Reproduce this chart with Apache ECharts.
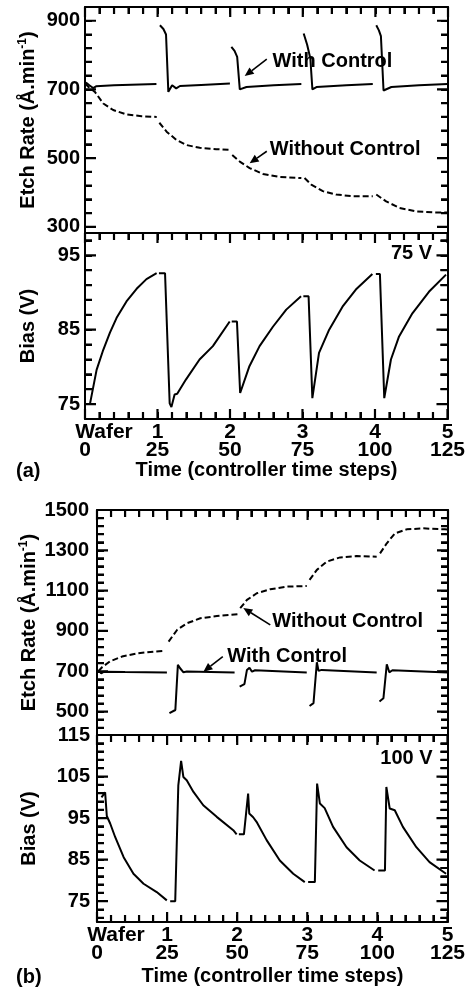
<!DOCTYPE html>
<html><head><meta charset="utf-8">
<script src="https://cdn.jsdelivr.net/npm/echarts@6/dist/echarts.min.js"></script>
<style>html,body{margin:0;padding:0;background:#fff}#c{width:468px;height:988px}</style>
</head><body><div id="c"></div>
<script>
// ---------- data ----------
const timeTicks = [0, 25, 50, 75, 100, 125];
const waferLabels = ['Wafer', '1', '2', '3', '4', '5'];
const etchATicks = [300, 500, 700, 900];
const biasATicks = [75, 85, 95];
const etchBTicks = [500, 700, 900, 1100, 1300, 1500];
const biasBTicks = [75, 85, 95, 105, 115];

const etchA_with = [
  [[0.3,720],[1.5,712],[2.8,704],[3.8,709],[10,712],[24.6,716]],
  [[25.8,887],[27.0,876],[27.9,860],[28.7,693],[30.0,712],[30.6,714],[31.4,703],[32.7,710],[40,713],[49.9,717]],
  [[50.4,824],[51.5,812],[52.4,795],[53.3,700],[55.6,707],[65,712],[74.5,716]],
  [[75.3,863],[76.5,830],[77.6,790],[78.3,700],[79.7,707],[90,712],[99.1,716]],
  [[100.3,887],[101.2,872],[101.9,855],[102.8,697],[105.5,707],[115,712],[124.8,716]]
];
const etchA_without = [
  [[0,717],[1.5,705],[3.4,693],[6.3,659],[9.7,640],[14.3,627],[19.5,622],[24.7,620]],
  [[25.6,603],[28.1,577],[31.5,553],[35,538],[39.5,530],[45.2,526],[49.9,524]],
  [[50.7,509],[53.3,490],[56.7,471],[61.3,454],[67,445],[74.5,442]],
  [[75.6,442],[77.9,423],[81.9,404],[86.5,394],[92.2,389],[99.1,389]],
  [[100.3,394],[103.7,374],[108.3,355],[114,345],[119.8,342],[124.9,342]]
];
const biasA = [
  [[0.5,75],[1.7,75],[4,79.6],[6.3,82.3],[8.6,84.6],[10.9,86.6],[14.3,88.8],[17.8,90.5],[21.2,91.8],[24.7,92.6]],
  [[25.5,92.6],[27.6,92.6],[29.2,75.1],[29.8,74.6],[30.9,76.3],[31.8,76.4],[34.8,78.3],[39.5,81],[44.1,82.8],[49.9,86.1]],
  [[50.6,86.1],[52.4,86.1],[53.5,76.5],[56.7,80.1],[60.2,82.8],[64.8,85.4],[69.4,87.7],[74.5,89.5]],
  [[75.3,89.5],[77.1,89.5],[78.4,75.8],[80.7,81.9],[84.2,85],[88.8,88.1],[93.4,90.4],[99.1,92.5]],
  [[100.3,92.5],[101.7,92.5],[103.2,75.8],[105.5,81],[108.3,84.1],[112.9,87.2],[118.6,90.1],[124.5,92.4]]
];
const etchB_with = [
  [[0.5,705],[1.5,690],[2.5,698],[10,696],[24.9,694]],
  [[25.8,492],[27.9,508],[28.8,732],[29.6,715],[30.8,695],[32,699],[49,694]],
  [[50.8,624],[52.5,636],[53.4,707],[54.3,718],[55.2,698],[56.3,705],[74.7,694]],
  [[75.7,528],[77.1,542],[78.3,745],[78.9,702],[80,707],[99.6,694]],
  [[100.6,550],[102,566],[103.2,735],[104.1,695],[105.2,705],[124.9,694]]
];
const etchB_without = [
  [[0.5,700],[1.8,720],[4.7,750],[8.9,773],[14.2,789],[20.1,797],[24.3,802]],
  [[25.5,847],[28.5,905],[32,938],[36.8,963],[42.7,974],[50.4,984]],
  [[51,1013],[53.4,1054],[56.9,1087],[61.7,1107],[67.6,1120],[74.7,1123]],
  [[75.7,1153],[78.3,1203],[81.8,1244],[86.6,1265],[92.5,1272],[99.6,1268]],
  [[100.8,1285],[103.2,1335],[106.1,1384],[110.3,1404],[116.2,1409],[123.9,1404],[125,1403]]
];
const biasB = [
  [[1.6,100],[2.9,101.2],[3.5,95.5],[4.7,93.7],[6.5,90.4],[9.5,85.6],[13,81.6],[16.6,79.2],[21.3,77.2],[24.9,75.2]],
  [[26.1,75],[27.9,75],[29,102.9],[30,108.8],[30.8,104.9],[32,104.1],[34.4,101.3],[37.9,98.1],[42.7,95.3],[48.6,92.1],[49.8,91.1]],
  [[50.6,91.1],[52.4,91.1],[53.9,100.9],[54.3,96.1],[55.7,95.2],[56.9,94.1],[60.5,89.7],[65.2,84.8],[70,81.6],[74.1,79.6]],
  [[75.3,79.6],[77.7,79.6],[78.5,103.3],[79.5,98.5],[81.2,97.4],[84.2,92.9],[89,88],[93.7,84.8],[99,82.4]],
  [[100.3,82.4],[102.7,82.4],[103.2,102.5],[104.4,97.3],[106.2,96.9],[109.1,92.9],[113.9,88],[118.6,84.4],[124.5,81.6]]
];

// ---------- layout / style ----------
const FONT = '"Liberation Sans", Arial, Helvetica, sans-serif';
const grids = [
  {left: 85, top: 7,   width: 363, height: 226, min: 282, max: 940, major: etchATicks, minorStep: 40, labelMargin: 5, bias: false},
  {left: 85, top: 233, width: 363, height: 186, min: 73,  max: 98,  major: biasATicks, minorStep: 2, labelMargin: 5, bias: true},
  {left: 97, top: 510, width: 351, height: 225, min: 384, max: 1500, major: etchBTicks, minorStep: 40, labelMargin: 8, bias: false},
  {left: 97, top: 735, width: 351, height: 187, min: 70,  max: 115, major: biasBTicks, minorStep: 2, labelMargin: 7, bias: true}
];
const X_MINOR_STEP = 5;
const MAJOR_LEN = 11, MINOR_LEN = 7, XMAJOR_LEN = 10;

function minorVals(majors, min, max, step) {
  const out = [];
  const start = majors[0] - Math.floor((majors[0] - min) / step + 1e-9) * step;
  for (let v = start; v <= max + 1e-9; v += step) {
    const r = Math.round(v * 1000) / 1000;
    if (majors.indexOf(r) < 0 && r > min && r < max) out.push(r);
  }
  return out;
}

const gridOpt = [], xAxes = [], yAxes = [];
const noSplit = {show: false};

grids.forEach((g, i) => {
  gridOpt.push({left: g.left, top: g.top, width: g.width, height: g.height, containLabel: false});
  const xl = {
    show: true, margin: 4, showMinLabel: true, showMaxLabel: true, hideOverlap: false,
    customValues: timeTicks,
    formatter: function (v) {
      const k = timeTicks.indexOf(v);
      if (k < 0) return '';
      return (k === 0 ? '{w|' + waferLabels[0] + '}' : '{n|' + waferLabels[k] + '}') + '\n{n|' + timeTicks[k] + '}';
    },
    rich: {
      w: {fontFamily: FONT, fontWeight: 'bold', fontSize: 21, color: '#000', lineHeight: 18, padding: [0, 0, 0, 38]},
      n: {fontFamily: FONT, fontWeight: 'bold', fontSize: 21, color: '#000', lineHeight: 18}
    }
  };
  const xMinor = minorVals(timeTicks, 0, 125, X_MINOR_STEP);
  const baseX = (pos, labels, ticks) => ({
    type: 'value', gridIndex: i, position: pos, min: 0, max: 125,
    axisLine: {show: true, onZero: false, lineStyle: {color: '#000', width: 2}},
    axisTick: {show: ticks, inside: true, customValues: timeTicks.concat(xMinor), length: MINOR_LEN,
               lineStyle: {color: '#000', width: 2}},
    axisLabel: labels ? xl : {show: false},
    splitLine: noSplit
  });
  xAxes.push(baseX('bottom', g.bias, g.bias));
  xAxes.push(baseX('top', false, true));

  const yMinor = minorVals(g.major, g.min, g.max, g.minorStep);
  const baseY = (pos, labels) => ({
    type: 'value', gridIndex: i, position: pos, min: g.min, max: g.max,
    axisLine: {show: true, onZero: false, lineStyle: {color: '#000', width: 2}},
    axisTick: {show: true, inside: true, customValues: g.major.concat(yMinor), length: MINOR_LEN,
               lineStyle: {color: '#000', width: 2}},
    axisLabel: labels ? {show: true, customValues: g.major, margin: g.labelMargin, fontSize: 20,
                         fontFamily: FONT, fontWeight: 'bold', color: '#000', formatter: v => String(v)} : {show: false},
    splitLine: noSplit
  });
  yAxes.push(baseY('left', true));
  yAxes.push(baseY('right', false));
});

function joinSegs(segs) {
  const out = [];
  segs.forEach((s, k) => {
    if (k > 0) out.push([(segs[k - 1][segs[k - 1].length - 1][0] + s[0][0]) / 2, '-']);
    s.forEach(p => out.push(p));
  });
  return out;
}
function mkSeries(name, segs, gi, dashed) {
  return {
    name: name, type: 'line', xAxisIndex: 2 * gi, yAxisIndex: 2 * gi,
    data: joinSegs(segs), showSymbol: false, symbol: 'none', connectNulls: false,
    lineStyle: {color: '#000', width: 2, type: dashed ? [6, 3] : 'solid'},
    silent: true, animation: false
  };
}

const series = [
  mkSeries('With Control', etchA_with, 0, false),
  mkSeries('Without Control', etchA_without, 0, true),
  mkSeries('Bias', biasA, 1, false),
  mkSeries('With Control', etchB_with, 2, false),
  mkSeries('Without Control', etchB_without, 2, true),
  mkSeries('Bias', biasB, 3, false)
];

const chart = echarts.init(document.getElementById('c'), null, {renderer: 'canvas'});
chart.setOption({
  backgroundColor: '#fff', animation: false,
  grid: gridOpt, xAxis: xAxes, yAxis: yAxes, series: series
});

// ---------- inward tick marks as line series (lengths converted through the axis scales) ----------
const toPxX = (gi, v) => chart.convertToPixel({xAxisIndex: 2 * gi}, v);
const toPxY = (gi, v) => chart.convertToPixel({yAxisIndex: 2 * gi}, v);
const fromPxX = (gi, p) => chart.convertFromPixel({xAxisIndex: 2 * gi}, p);
const fromPxY = (gi, p) => chart.convertFromPixel({yAxisIndex: 2 * gi}, p);

const tickSeries = [];
grids.forEach((g, gi) => {
  const d = [];
  const brk = () => d.push(['-', '-']);
  const topPx = toPxY(gi, g.max), botPx = toPxY(gi, g.min);
  const leftPx = toPxX(gi, 0), rightPx = toPxX(gi, 125);
  const xMinor = minorVals(timeTicks, 0, 125, X_MINOR_STEP);
  const addX = (t, len) => {
    d.push([t, g.max]); d.push([t, fromPxY(gi, topPx + len)]); brk();
    if (g.bias) { d.push([t, g.min]); d.push([t, fromPxY(gi, botPx - len)]); brk(); }
  };
  const addY = (v, len) => {
    d.push([0, v]); d.push([fromPxX(gi, leftPx + len), v]); brk();
    d.push([125, v]); d.push([fromPxX(gi, rightPx - len), v]); brk();
  };
  timeTicks.forEach(t => addX(t, XMAJOR_LEN));
  xMinor.forEach(t => addX(t, MINOR_LEN));
  g.major.forEach(v => addY(v, MAJOR_LEN));
  minorVals(g.major, g.min, g.max, g.minorStep).forEach(v => addY(v, MINOR_LEN));
  tickSeries.push({
    name: 'ticks', type: 'line', xAxisIndex: 2 * gi, yAxisIndex: 2 * gi, data: d,
    showSymbol: false, symbol: 'none', connectNulls: false, clip: false, silent: true, animation: false, z: 3,
    lineStyle: {color: '#000', width: 2.2, cap: 'butt'}
  });
});
chart.setOption({series: series.concat(tickSeries)});

// ---------- annotations ----------
function px(gi, p) { return [toPxX(gi, p[0]), toPxY(gi, p[1])]; }
const graphic = [];
const annotations = [
  {g: 0, text: 'With Control', at: [64.6, 782], from: [62.6, 788], to: [55.0, 739]},
  {g: 0, text: 'Without Control', at: [63.6, 526], from: [62.6, 520], to: [56.7, 485]},
  {g: 2, text: 'Without Control', at: [62.4, 947], from: [61.7, 930], to: [52.1, 1014]},
  {g: 2, text: 'With Control', at: [46.4, 774], from: [44.8, 773], to: [37.9, 698]}
];
const voltLabels = [{g: 1, text: '75 V', at: [119.7, 95.2]}, {g: 3, text: '100 V', at: [119.7, 109.3]}];

const tstyle = (text, size, align) => ({text: text, fontFamily: FONT, fontWeight: 'bold', fontSize: size, fill: '#000', align: align, verticalAlign: 'middle'});

annotations.forEach(a => {
  const p = px(a.g, a.at), f = px(a.g, a.from), t = px(a.g, a.to);
  graphic.push({type: 'text', x: p[0], y: p[1], style: tstyle(a.text, 20, 'left'), silent: true});
  const dx = t[0] - f[0], dy = t[1] - f[1], L = Math.hypot(dx, dy), ux = dx / L, uy = dy / L;
  const hl = 9, hw = 4;
  const bx = t[0] - ux * hl, by = t[1] - uy * hl;
  graphic.push({type: 'line', shape: {x1: f[0], y1: f[1], x2: bx, y2: by}, style: {stroke: '#000', lineWidth: 1.6}, silent: true});
  graphic.push({type: 'polygon', shape: {points: [[t[0], t[1]], [bx - uy * hw, by + ux * hw], [bx + uy * hw, by - ux * hw]]}, style: {fill: '#000'}, silent: true});
});
voltLabels.forEach(a => {
  const p = px(a.g, a.at);
  graphic.push({type: 'text', x: p[0], y: p[1], style: tstyle(a.text, 20, 'right'), silent: true});
});

const yTitleRich = {
  t: {fontFamily: FONT, fontWeight: 'bold', fontSize: 20, fill: '#000', lineHeight: 22},
  s: {fontFamily: FONT, fontWeight: 'bold', fontSize: 12, fill: '#000', lineHeight: 22, verticalAlign: 'top'}
};
function yTitle(gi, x, isEtch) {
  const g = grids[gi];
  graphic.push({
    type: 'text', x: x, y: g.top + g.height / 2, rotation: Math.PI / 2, silent: true,
    style: isEtch
      ? {text: '{t|Etch Rate (Å.min}{s|-1}{t|)}', rich: yTitleRich, align: 'center', verticalAlign: 'middle', fill: '#000'}
      : tstyle('Bias (V)', 20, 'center')
  });
}
yTitle(0, 28, true);
yTitle(1, 28, false);
yTitle(2, 29, true);
yTitle(3, 29, false);

[[1, 470, '(a)'], [3, 976, '(b)']].forEach(([gi, y, lab]) => {
  const g = grids[gi];
  graphic.push({type: 'text', x: g.left + g.width / 2, y: y, style: tstyle('Time (controller time steps)', 20, 'center'), silent: true});
  graphic.push({type: 'text', x: 16, y: y + 1, style: tstyle(lab, 20, 'left'), silent: true});
});

chart.setOption({graphic: graphic});
</script></body></html>
